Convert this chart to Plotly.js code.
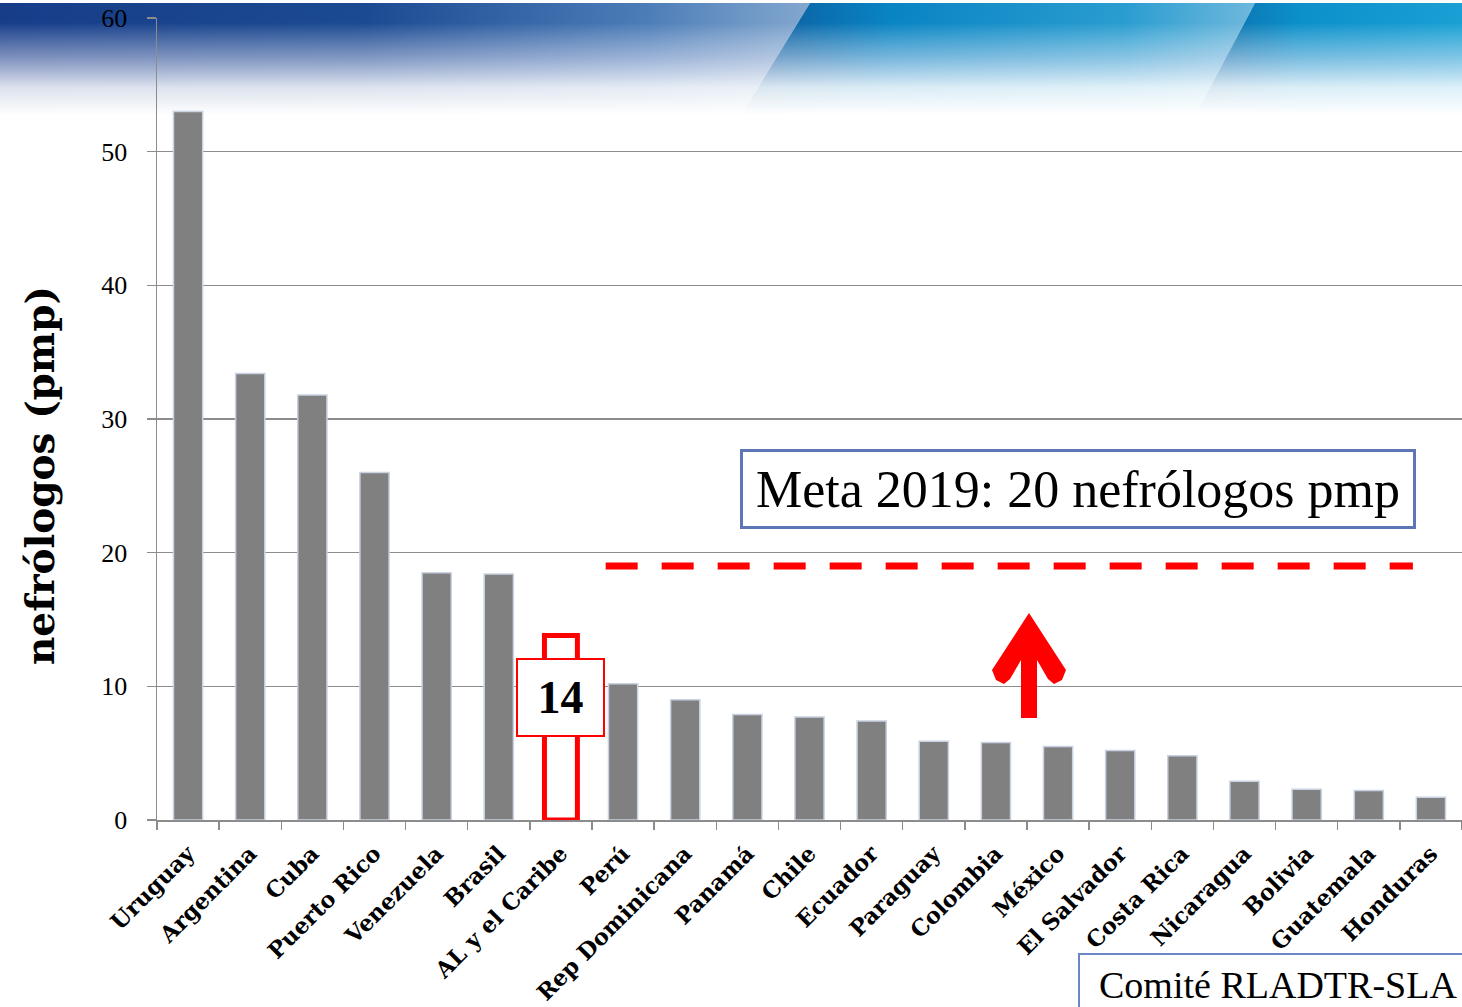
<!DOCTYPE html>
<html><head><meta charset="utf-8">
<script src="https://cdn.plot.ly/plotly-3.0.1.min.js"></script>
<style>
html,body{margin:0;padding:0;background:#fff;overflow:hidden}
#wrap{position:relative;width:1462px;height:1007px}
#bg{position:absolute;left:0;top:0}
#chart{position:absolute;left:0;top:0;width:1462px;height:1007px}
</style></head><body>
<div id="wrap">
<svg id="bg" width="1462" height="125" xmlns="http://www.w3.org/2000/svg">
<defs>
<linearGradient id="gA" x1="0" x2="1" y1="0" y2="0">
<stop offset="0" stop-color="#173d89"/><stop offset="0.45" stop-color="#1b4a92"/>
<stop offset="0.8" stop-color="#4d7db8"/><stop offset="1" stop-color="#83a8cf"/>
</linearGradient>
<linearGradient id="gB" x1="0" x2="1" y1="0" y2="0">
<stop offset="0" stop-color="#0d5597"/><stop offset="0.3" stop-color="#0984c3"/>
<stop offset="0.75" stop-color="#2a9dd0"/><stop offset="1" stop-color="#6fb8dc"/>
</linearGradient>
<linearGradient id="gC" x1="0" x2="1" y1="0" y2="0">
<stop offset="0" stop-color="#0b66a3"/><stop offset="0.4" stop-color="#0c90ca"/>
<stop offset="1" stop-color="#1aa0d4"/>
</linearGradient>
<linearGradient id="fade" x1="0" x2="0" y1="0" y2="1">
<stop offset="0" stop-color="#fff" stop-opacity="0"/>
<stop offset="0.18" stop-color="#fff" stop-opacity="0"/>
<stop offset="0.45" stop-color="#f4f0fa" stop-opacity="0.45"/>
<stop offset="0.7" stop-color="#fff" stop-opacity="0.85"/>
<stop offset="0.92" stop-color="#fff" stop-opacity="1"/>
</linearGradient>
</defs>
<rect x="0" y="0" width="1462" height="3" fill="#fff"/>
<polygon points="0,3 810,3 735,125 0,125" fill="url(#gA)"/>
<polygon points="810,3 1255,3 1190,125 735,125" fill="url(#gB)"/>
<polygon points="1255,3 1462,3 1462,125 1190,125" fill="url(#gC)"/>
<rect x="0" y="0" width="1462" height="125" fill="url(#fade)"/>
</svg>
<div id="chart"></div>
</div>
<script>
const categories = ['Uruguay','Argentina','Cuba','Puerto Rico','Venezuela','Brasil','AL y el Caribe','Perú','Rep Dominicana','Panamá','Chile','Ecuador','Paraguay','Colombia','México','El Salvador','Costa Rica','Nicaragua','Bolivia','Guatemala','Honduras'];
const values = [53, 33.4, 31.8, 26, 18.5, 18.4, 13.8, 10.2, 9, 7.9, 7.7, 7.4, 5.9, 5.8, 5.5, 5.2, 4.8, 2.9, 2.3, 2.2, 1.7];
const highlightCategory = 'AL y el Caribe';
const highlightLabel = '14';
const goalValue = 19;
const goalText = 'Meta 2019: 20 nefrólogos pmp';
const yTitle = 'nefrólogos (pmp)';
const sourceText = 'Comité RLADTR-SLA';

const hi = categories.indexOf(highlightCategory);
const W = 1462, H = 1007, L = 157, T = 18, B = 820, R = 1462;
const px = x => (x - L) / (R - L);
const py = y => (B - y) / (B - T);

const trace = {
  type: 'bar', x: categories, y: values,
  width: values.map((v,i)=> i===hi ? 0.53 : 0.47),
  marker: {
    color: values.map((v,i)=> i===hi ? '#ffffff' : '#808080'),
    line: {
      color: values.map((v,i)=> i===hi ? '#ff0000' : '#c8d2e1'),
      width: values.map((v,i)=> i===hi ? 5 : 1.5)
    }
  },
  hoverinfo: 'x+y'
};

const arrowPts = [[1029,613],[1066,670],[1062,680],[1054,684],[1048,679],[1037,660],[1037,718],[1021,718],[1021,660],[1010,679],[1004,684],[996,680],[992,670]];
const arrowPath = 'M ' + arrowPts.map(p => px(p[0]).toFixed(5) + ',' + py(p[1]).toFixed(5)).join(' L ') + ' Z';

const layout = {
  width: W, height: H,
  margin: {l: L, r: W - R, t: T, b: H - B, pad: 0},
  paper_bgcolor: 'rgba(0,0,0,0)', plot_bgcolor: 'rgba(0,0,0,0)',
  showlegend: false,
  bargap: 0.53,
  xaxis: {
    type: 'category', showline: true, linecolor: '#8c8c8c', linewidth: 1.5,
    ticks: 'outside', tickson: 'boundaries', ticklen: 8, tickcolor: '#8c8c8c', tickwidth: 1.5,
    tickangle: -45, showgrid: false, ticklabelstandoff: 10,
    tickfont: {family: 'DejaVu Serif', size: 22.5, color: '#000', weight: 'bold'}
  },
  yaxis: {
    range: [0, 60], dtick: 10, showline: true, linecolor: '#8c8c8c', linewidth: 1.5,
    ticks: 'outside', ticklen: 9, tickcolor: '#8c8c8c', tickwidth: 1.5,
    gridcolor: '#8c8c8c', gridwidth: 1.3, zeroline: false,
    ticklabelstandoff: 14,
    tickfont: {family: 'Liberation Serif', size: 26, color: '#000'}
  },
  shapes: [
    {type: 'line', xref: 'x', yref: 'y', x0: 6.72, x1: 19.71, y0: goalValue, y1: goalValue,
     line: {color: '#ff0000', width: 7, dash: '32px,24px'}},
    {type: 'path', xref: 'paper', yref: 'paper', path: arrowPath, fillcolor: '#ff0000', line: {width: 0}}
  ],
  annotations: [
    {xref: 'x', yref: 'y', x: hi, y: 9.13, xanchor: 'center', yanchor: 'middle',
     text: '<b>' + highlightLabel + '</b>', showarrow: false,
     font: {family: 'Liberation Serif', size: 46, color: '#000'},
     bgcolor: '#ffffff', bordercolor: '#ff0000', borderwidth: 2, borderpad: 0, width: 85, height: 75},
    {xref: 'paper', yref: 'paper', x: px(1078), y: py(488.5), xanchor: 'center', yanchor: 'middle',
     text: goalText, showarrow: false,
     font: {family: 'Liberation Serif', size: 52, color: '#000'},
     bgcolor: '#ffffff', bordercolor: '#5e76b6', borderwidth: 3, borderpad: 0, width: 670, height: 74},
    {xref: 'paper', yref: 'paper', x: px(40), y: py(476), xanchor: 'center', yanchor: 'middle',
     text: '<b>' + yTitle + '</b>', showarrow: false,
     textangle: -90, font: {family: 'DejaVu Serif', size: 39, color: '#000'}},
    {xref: 'paper', yref: 'paper', x: px(1078), y: py(953), xanchor: 'left', yanchor: 'top',
     text: '\u00a0\u00a0' + sourceText, showarrow: false, align: 'left',
     font: {family: 'Liberation Serif', size: 38, color: '#000'},
     bgcolor: '#ffffff', bordercolor: '#6a86c4', borderwidth: 2, borderpad: 0, width: 440, height: 60}
  ]
};

Plotly.newPlot('chart', [trace], layout, {displayModeBar: false, staticPlot: true});
</script>
</body></html>
